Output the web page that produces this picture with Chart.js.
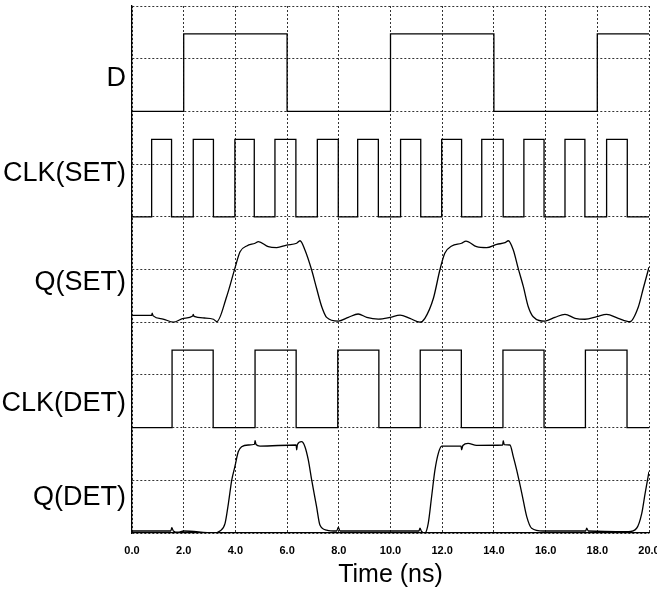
<!DOCTYPE html>
<html>
<head>
<meta charset="utf-8">
<script src="https://cdn.jsdelivr.net/npm/chart.js@4"></script>
<style>
  html, body { margin: 0; padding: 0; background: #fff; }
  canvas { display: block; }
</style>
</head>
<body>
<canvas id="wave" width="657" height="593"></canvas>
<script>
// ── Data ────────────────────────────────────────────────
const signalNames = ['D', 'CLK(SET)', 'Q(SET)', 'CLK(DET)', 'Q(DET)'];
const xTicks = [0, 2, 4, 6, 8, 10, 12, 14, 16, 18, 20];   // ns

// digital signals: times (ns) where the level toggles, start low
const dEdges = [2.0, 6.0, 10.0, 14.0, 18.0];
const clkSetEdges = [0.76, 1.53, 2.37, 3.15, 3.98, 4.73, 5.53, 6.34, 7.17, 7.98, 8.73, 9.53,
                     10.39, 11.17, 11.98, 12.75, 13.53, 14.36, 15.16, 15.94, 16.75, 17.52, 18.36, 19.16];
const clkDetEdges = [1.55, 3.14, 4.76, 6.35, 7.96, 9.55, 11.15, 12.74, 14.35, 15.94, 17.54, 19.15];

// analog outputs (fraction of the trace height)
const qSetT = [0, 0.76, 0.78, 0.82, 1.2, 1.6, 2.0, 2.35, 2.37, 2.4, 2.8, 3.15, 3.28, 3.66, 3.98, 4.18, 4.44,
               4.76, 4.89, 5.27, 5.6, 5.98, 6.37, 6.5, 6.69, 6.95, 7.14, 7.34, 7.53, 7.98, 8.37, 8.75,
               9.08, 9.53, 9.98, 10.37, 10.75, 11.14, 11.33, 11.66, 11.91, 12.1, 12.37, 12.75, 12.92,
               13.33, 13.72, 14.11, 14.43, 14.56, 14.75, 14.94, 15.14, 15.33, 15.52, 15.98, 16.36,
               16.75, 17.14, 17.52, 17.98, 18.36, 18.81, 19.26, 19.59, 19.78, 20];
const qSetV = [0.065, 0.065, 0.085, 0.06, 0.03, 0.0, 0.037, 0.058, 0.075, 0.055, 0.04, 0.028, 0.005, 0.242,
               0.511, 0.669, 0.723, 0.749, 0.764, 0.716, 0.707, 0.732, 0.749, 0.773, 0.685, 0.495,
               0.322, 0.147, 0.046, 0.011, 0.046, 0.078, 0.046, 0.030, 0.046, 0.068, 0.037, 0.0,
               0.037, 0.227, 0.495, 0.654, 0.723, 0.749, 0.77, 0.716, 0.707, 0.739, 0.754, 0.773,
               0.685, 0.511, 0.337, 0.147, 0.052, 0.011, 0.046, 0.075, 0.037, 0.028, 0.052, 0.075,
               0.037, 0.005, 0.147, 0.322, 0.521];

const qDetT = [0, 1.5, 1.54, 1.6, 1.78, 2.0, 3.15, 3.4, 3.6, 3.73, 3.86, 3.98, 4.11, 4.24, 4.5, 4.74,
               4.76, 4.8, 4.95, 6.35, 6.37, 6.4, 6.56, 6.69, 6.82, 6.95, 7.14, 7.27, 7.53, 7.92, 7.98,
               8.05, 11.1, 11.14, 11.2, 11.33, 11.46, 11.59, 11.72, 11.85, 11.98, 12.73, 12.75, 12.8,
               13.0, 13.33, 14.34, 14.36, 14.4, 14.62, 14.75, 14.88, 15.08, 15.27, 15.46, 15.91,
               17.55, 17.59, 17.65, 19.2, 19.52, 19.72, 19.85, 20];
const qDetV = [0.019, 0.019, 0.05, 0.02, 0.007, 0.019, 0.0, 0.019, 0.092, 0.282, 0.503, 0.629, 0.771,
               0.819, 0.835, 0.842, 0.876, 0.84, 0.825, 0.835, 0.79, 0.84, 0.866, 0.819, 0.693, 0.503,
               0.25, 0.076, 0.028, 0.019, 0.054, 0.019, 0.019, 0.045, 0.015, 0.0, 0.092, 0.344, 0.598,
               0.756, 0.825, 0.825, 0.79, 0.83, 0.851, 0.832, 0.835, 0.876, 0.838, 0.835, 0.724, 0.598,
               0.377, 0.155, 0.045, 0.019, 0.019, 0.045, 0.019, 0.012, 0.045, 0.187, 0.377, 0.582];

const digitalHigh = 0.735;                 // high level as a fraction of the trace height
const labelDrop   = [0.37, 0.18, 0.24, 0.55, 0.33];  // label offset below trace midline (trace units)

// ── Helpers ─────────────────────────────────────────────
const N = signalNames.length;
const base = i => (N - 1 - i) * 2;          // bottom of trace i on the shared y scale

function digitalPoints(edges, i) {
  let level = 0;
  const pts = [{ x: 0, y: base(i) }];
  edges.forEach(t => {
    level = 1 - level;
    pts.push({ x: t, y: base(i) + 2 * digitalHigh * level });
  });
  pts.push({ x: 20, y: base(i) + 2 * digitalHigh * level });
  return pts;
}

function analogPoints(ts, vs, i) {
  return ts.map((t, k) => ({ x: t, y: base(i) + 2 * vs[k] }));
}

const lineStyle = { borderColor: '#000', borderWidth: 1.3, pointRadius: 0, fill: false };

const datasets = [
  { ...lineStyle, label: signalNames[0], data: digitalPoints(dEdges, 0), stepped: 'before' },
  { ...lineStyle, label: signalNames[1], data: digitalPoints(clkSetEdges, 1), stepped: 'before' },
  { ...lineStyle, label: signalNames[2], data: analogPoints(qSetT, qSetV, 2), cubicInterpolationMode: 'monotone' },
  { ...lineStyle, label: signalNames[3], data: digitalPoints(clkDetEdges, 3), stepped: 'before' },
  { ...lineStyle, label: signalNames[4], data: analogPoints(qDetT, qDetV, 4), cubicInterpolationMode: 'monotone' }
];

// grid every half trace, names placed a little under each midline
const gridVals  = Array.from({ length: 2 * N + 1 }, (_, k) => k);
const labelVals = signalNames.map((_, i) => base(i) + 1 - labelDrop[i]);
const isLabel   = v => labelVals.some(l => Math.abs(l - v) < 1e-6);

// ── Chart ───────────────────────────────────────────────
new Chart(document.getElementById('wave'), {
  type: 'line',
  data: { datasets },
  options: {
    responsive: false,
    animation: false,
    layout: { padding: { top: 6, right: 8, left: 0, bottom: 0 } },
    plugins: { legend: { display: false }, tooltip: { enabled: false } },
    scales: {
      x: {
        type: 'linear', min: 0, max: 20,
        afterBuildTicks: s => { s.ticks = xTicks.map(v => ({ value: v })); },
        afterFit: s => { s.height = 60; s.paddingLeft = 0; s.paddingRight = 0; },
        grid: { color: '#333', lineWidth: 1, drawTicks: false },
        border: { display: true, color: '#000', width: 1.3, dash: [2, 2] },
        ticks: {
          autoSkip: false, maxRotation: 0, padding: 11, color: '#000',
          font: { family: 'Liberation Sans', size: 11, weight: 'bold' },
          callback: v => Number(v).toFixed(1)
        },
        title: {
          display: true, text: 'Time (ns)', color: '#000',
          font: { family: 'Liberation Sans', size: 25 },
          padding: { top: 0, bottom: 3 }
        }
      },
      y: {
        type: 'linear', min: 0, max: 2 * N,
        afterBuildTicks: s => {
          s.ticks = gridVals.concat(labelVals).sort((a, b) => a - b).map(v => ({ value: v }));
        },
        afterFit: s => { s.width = 132; s.paddingTop = 0; s.paddingBottom = 0; },
        grid: {
          color: c => (c.tick && isLabel(c.tick.value)) ? 'rgba(0,0,0,0)' : '#333',
          lineWidth: 1, drawTicks: false
        },
        border: { display: true, color: '#000', width: 1.3, dash: [2, 2] },
        ticks: {
          autoSkip: false, padding: 6, color: '#000',
          font: { family: 'Liberation Sans', size: 27 },
          callback: v => {
            const i = labelVals.findIndex(l => Math.abs(l - v) < 1e-6);
            return i >= 0 ? signalNames[i] : '';
          }
        }
      }
    }
  }
});
</script>
</body>
</html>
